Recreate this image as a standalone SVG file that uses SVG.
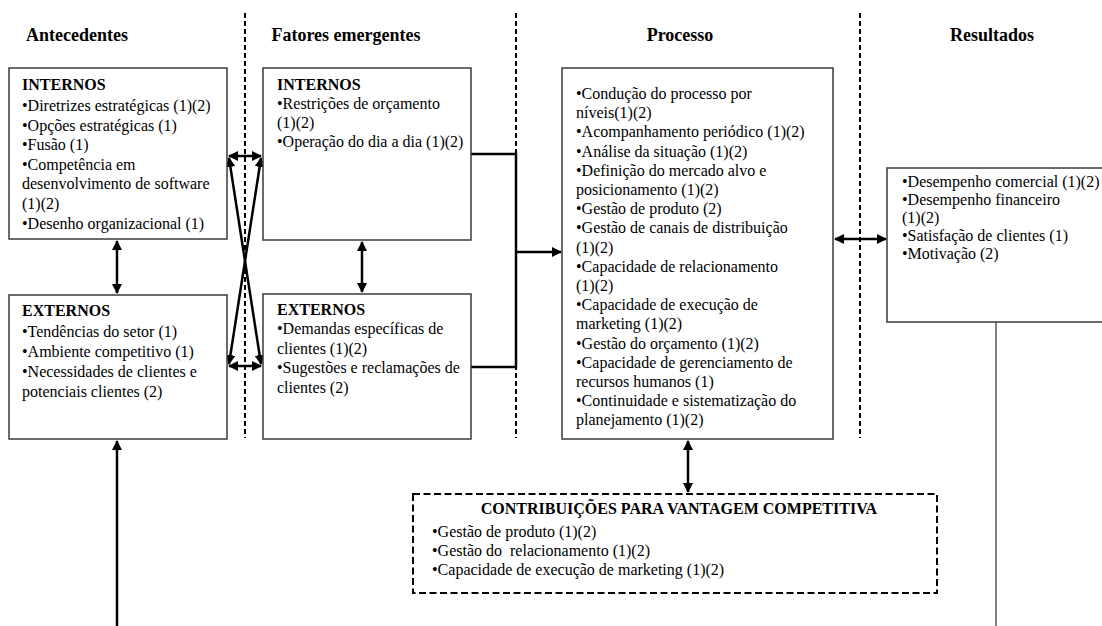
<svg xmlns="http://www.w3.org/2000/svg" width="1102" height="626" viewBox="0 0 1102 626">
<style>
text{font-family:"Liberation Serif","Times New Roman",serif;font-size:16px;fill:#000}
.h{font-size:18px;font-weight:bold;text-anchor:middle}
.b{font-weight:bold}
.box{fill:#fff;stroke:#3a3a3a;stroke-width:1.5}
.dbox{fill:#fff;stroke:#000;stroke-width:2;stroke-dasharray:7 3.5}
.sep{stroke:#000;stroke-width:2;stroke-dasharray:5 3;fill:none}
.c{stroke:#000;stroke-width:2.5;fill:none}
.thin{stroke:#555;stroke-width:1.5;fill:none}
</style>
<defs>
<marker id="ah" viewBox="0 0 10 10" refX="9" refY="5" markerWidth="10" markerHeight="10" markerUnits="userSpaceOnUse" orient="auto-start-reverse">
<path d="M0,0 L10,5 L0,10 z" fill="#000"/>
</marker>
</defs>
<g id="headers">
<text class="h" x="77" y="41">Antecedentes</text>
<text class="h" x="346" y="41">Fatores emergentes</text>
<text class="h" x="680" y="41">Processo</text>
<text class="h" x="992" y="41">Resultados</text>
</g>
<g id="separators">
<line class="sep" x1="245" y1="13" x2="245" y2="438"/>
<line class="sep" x1="516" y1="13" x2="516" y2="438"/>
<line class="sep" x1="860" y1="13" x2="860" y2="438"/>
</g>
<g id="connectors">
<line class="c" x1="117" y1="241" x2="117" y2="293" marker-start="url(#ah)" marker-end="url(#ah)"/>
<line class="c" x1="362" y1="242" x2="362" y2="292" marker-start="url(#ah)" marker-end="url(#ah)"/>
<line class="c" x1="229" y1="156" x2="261" y2="156" marker-start="url(#ah)" marker-end="url(#ah)"/>
<line class="c" x1="229" y1="366" x2="261" y2="366" marker-start="url(#ah)" marker-end="url(#ah)"/>
<line class="c" x1="229" y1="158" x2="261" y2="364" marker-start="url(#ah)" marker-end="url(#ah)"/>
<line class="c" x1="261" y1="158" x2="229" y2="364" marker-start="url(#ah)" marker-end="url(#ah)"/>
<polyline class="c" points="471,154 516,154 516,367 471,367"/>
<line class="c" x1="516" y1="252" x2="561" y2="252" marker-end="url(#ah)"/>
<line class="c" x1="835" y1="239" x2="886" y2="239" marker-start="url(#ah)" marker-end="url(#ah)"/>
<line class="c" x1="688" y1="441" x2="688" y2="492" marker-start="url(#ah)" marker-end="url(#ah)"/>
<line class="c" x1="117" y1="626" x2="117" y2="441" marker-end="url(#ah)"/>
<line class="thin" x1="996" y1="322" x2="996" y2="626"/>
</g>
<g id="ant-internos">
<rect class="box" x="9" y="68" width="218" height="171"/>
<text class="b" x="22" y="90">INTERNOS</text>
<text x="22" y="111">•Diretrizes estratégicas (1)(2)</text>
<text x="22" y="131">•Opções estratégicas (1)</text>
<text x="22" y="150">•Fusão (1)</text>
<text x="22" y="170">•Competência em</text>
<text x="22" y="189">desenvolvimento de software</text>
<text x="22" y="209">(1)(2)</text>
<text x="22" y="229">•Desenho organizacional (1)</text>
</g>
<g id="ant-externos">
<rect class="box" x="9" y="295" width="218" height="144"/>
<text class="b" x="22" y="316">EXTERNOS</text>
<text x="22" y="337">•Tendências do setor (1)</text>
<text x="22" y="357">•Ambiente competitivo (1)</text>
<text x="22" y="377">•Necessidades de clientes e</text>
<text x="22" y="397">potenciais clientes (2)</text>
</g>
<g id="fat-internos">
<rect class="box" x="263" y="68" width="208" height="172"/>
<text class="b" x="277" y="90">INTERNOS</text>
<text x="277" y="109">•Restrições de orçamento</text>
<text x="277" y="128">(1)(2)</text>
<text x="277" y="147">•Operação do dia a dia (1)(2)</text>
</g>
<g id="fat-externos">
<rect class="box" x="263" y="294" width="208" height="145"/>
<text class="b" x="277" y="315">EXTERNOS</text>
<text x="277" y="334">•Demandas específicas de</text>
<text x="277" y="354">clientes (1)(2)</text>
<text x="277" y="373">•Sugestões e reclamações de</text>
<text x="277" y="393">clientes (2)</text>
</g>
<g id="processo">
<rect class="box" x="562" y="68" width="271" height="371"/>
<text x="576" y="99">•Condução do processo por</text>
<text x="576" y="118">níveis(1)(2)</text>
<text x="576" y="137">•Acompanhamento periódico (1)(2)</text>
<text x="576" y="157">•Análise da situação (1)(2)</text>
<text x="576" y="176">•Definição do mercado alvo e</text>
<text x="576" y="195">posicionamento (1)(2)</text>
<text x="576" y="214">•Gestão de produto (2)</text>
<text x="576" y="233">•Gestão de canais de distribuição</text>
<text x="576" y="253">(1)(2)</text>
<text x="576" y="272">•Capacidade de relacionamento</text>
<text x="576" y="291">(1)(2)</text>
<text x="576" y="310">•Capacidade de execução de</text>
<text x="576" y="329">marketing (1)(2)</text>
<text x="576" y="349">•Gestão do orçamento (1)(2)</text>
<text x="576" y="368">•Capacidade de gerenciamento de</text>
<text x="576" y="387">recursos humanos (1)</text>
<text x="576" y="406">•Continuidade e sistematização do</text>
<text x="576" y="425">planejamento (1)(2)</text>
</g>
<g id="resultados">
<rect class="box" x="887" y="168" width="222" height="154"/>
<text x="902" y="187">•Desempenho comercial (1)(2)</text>
<text x="902" y="205">•Desempenho financeiro</text>
<text x="902" y="223">(1)(2)</text>
<text x="902" y="241">•Satisfação de clientes (1)</text>
<text x="902" y="259">•Motivação (2)</text>
</g>
<g id="contribuicoes">
<rect class="dbox" x="413" y="494" width="524" height="99"/>
<text class="b" x="679" y="514" text-anchor="middle">CONTRIBUIÇÕES PARA VANTAGEM COMPETITIVA</text>
<text x="432" y="537">•Gestão de produto (1)(2)</text>
<text x="432" y="556" xml:space="preserve">•Gestão do  relacionamento (1)(2)</text>
<text x="432" y="575">•Capacidade de execução de marketing (1)(2)</text>
</g>
</svg>
